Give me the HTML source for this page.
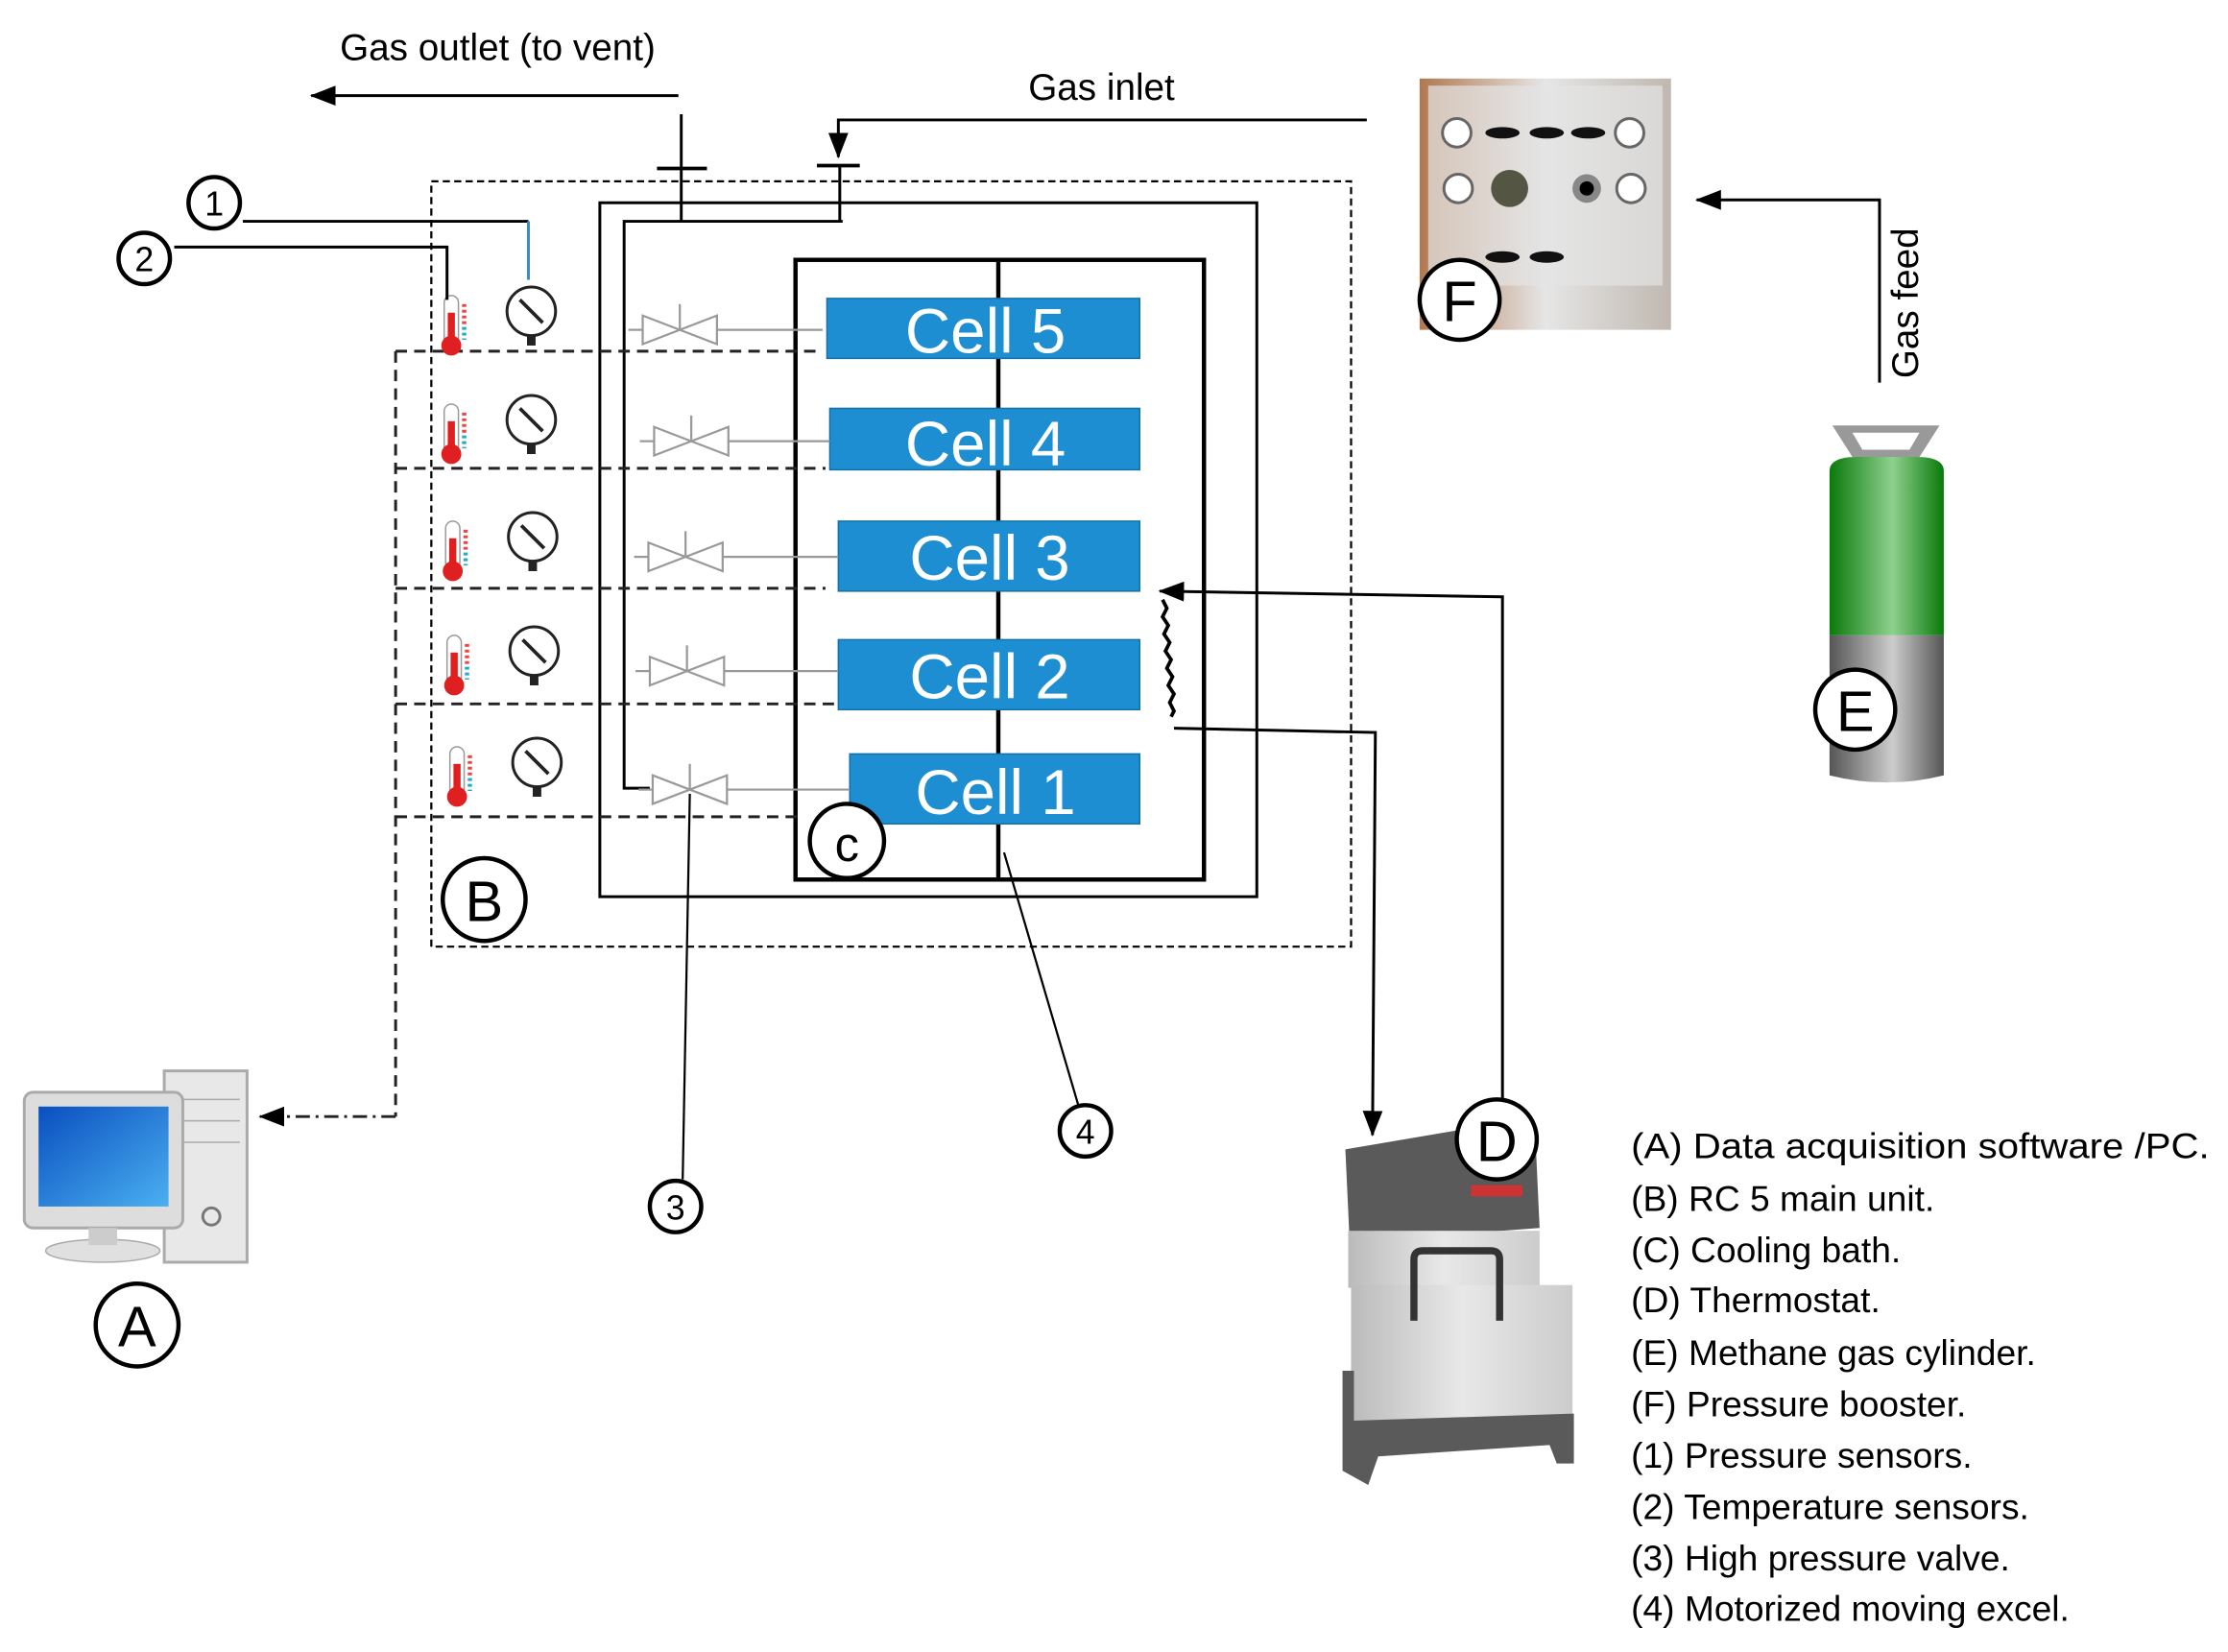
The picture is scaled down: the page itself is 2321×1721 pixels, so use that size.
<!DOCTYPE html>
<html><head><meta charset="utf-8"><style>
html,body{margin:0;padding:0;background:#fff}
svg{display:block}
text{font-family:"Liberation Sans",sans-serif}
</style></head><body>
<svg width="2321" height="1721" viewBox="0 0 1560 1157" preserveAspectRatio="none" xmlns="http://www.w3.org/2000/svg">
<defs>
<marker id="ahl" markerWidth="18" markerHeight="14" refX="17" refY="7" orient="auto" markerUnits="userSpaceOnUse"><path d="M0,0 L18,7 L0,14 z" fill="#000"/></marker>
<linearGradient id="gr" x1="0" x2="1"><stop offset="0" stop-color="#0a7a0a"/><stop offset="0.55" stop-color="#8fd08f"/><stop offset="1" stop-color="#0a7a0a"/></linearGradient>
<linearGradient id="gy" x1="0" x2="1"><stop offset="0" stop-color="#555"/><stop offset="0.55" stop-color="#ccc"/><stop offset="1" stop-color="#555"/></linearGradient>
<linearGradient id="pf" x1="0" x2="1"><stop offset="0" stop-color="#b07850"/><stop offset="0.5" stop-color="#e6e6e6"/><stop offset="1" stop-color="#c0b8b0"/></linearGradient>
<linearGradient id="mon" x1="0" y1="0" x2="1" y2="1"><stop offset="0" stop-color="#0a4fc0"/><stop offset="1" stop-color="#4ab0f0"/></linearGradient>
<linearGradient id="dm" x1="0" x2="1"><stop offset="0" stop-color="#bbb"/><stop offset="0.5" stop-color="#e8e8e8"/><stop offset="1" stop-color="#ccc"/></linearGradient>
</defs>

<text x="238" y="42" font-size="26">Gas outlet (to vent)</text>
<line x1="475" y1="67" x2="218" y2="67" stroke="#000" stroke-width="2" marker-end="url(#ahl)"/>
<line x1="477" y1="80" x2="477" y2="155" stroke="#000" stroke-width="2"/>
<line x1="460" y1="118" x2="495" y2="118" stroke="#000" stroke-width="2.5"/>
<text x="720" y="70" font-size="26">Gas inlet</text>
<polyline points="957,84 587,84 587,110" fill="none" stroke="#000" stroke-width="2" marker-end="url(#ahl)"/>
<line x1="572" y1="116" x2="602" y2="116" stroke="#000" stroke-width="2.5"/>
<line x1="588" y1="116" x2="588" y2="155" stroke="#000" stroke-width="2"/>
<polyline points="590,155 437,155 437,552 455,552" fill="none" stroke="#000" stroke-width="2"/>

<rect x="302" y="127" width="644" height="536" fill="none" stroke="#000" stroke-width="1.5" stroke-dasharray="5,3"/>
<rect x="420" y="142" width="460" height="486" fill="none" stroke="#000" stroke-width="2"/>
<rect x="557" y="182" width="286" height="434" fill="none" stroke="#000" stroke-width="3"/>
<line x1="699" y1="182" x2="699" y2="616" stroke="#000" stroke-width="3"/>

<g stroke="#222" stroke-width="2" stroke-dasharray="8,5" fill="none">
<line x1="277" y1="246" x2="575" y2="246"/>
<line x1="277" y1="328" x2="578" y2="328"/>
<line x1="277" y1="412" x2="578" y2="412"/>
<line x1="277" y1="493" x2="585" y2="493"/>
<line x1="277" y1="572" x2="560" y2="572"/>
<line x1="277" y1="246" x2="277" y2="782"/>
</g>
<line x1="277" y1="782" x2="182" y2="782" stroke="#222" stroke-width="2" stroke-dasharray="10,4,2,4" marker-end="url(#ahl)"/>

<g fill="#1e8ed2" stroke="#1470a8" stroke-width="1">
<rect x="579" y="209" width="219" height="42"/>
<rect x="581" y="286" width="217" height="43"/>
<rect x="587" y="365" width="211" height="49"/>
<rect x="587" y="448" width="211" height="49"/>
<rect x="595" y="528" width="203" height="49"/>
</g>
<g fill="#fff" font-size="44" text-anchor="middle">
<text x="690" y="247">Cell 5</text>
<text x="690" y="326">Cell 4</text>
<text x="693" y="406">Cell 3</text>
<text x="693" y="489">Cell 2</text>
<text x="697" y="570">Cell 1</text>
</g>

<g stroke="#999" stroke-width="1.5" fill="none">
<g transform="translate(476,231)"><path d="M-26,-10 L26,10 L26,-10 L-26,10 Z"/><line x1="0" y1="0" x2="0" y2="-18"/><line x1="-36" y1="0" x2="-26" y2="0"/><line x1="26" y1="0" x2="100" y2="0"/></g>
<g transform="translate(484,309)"><path d="M-26,-10 L26,10 L26,-10 L-26,10 Z"/><line x1="0" y1="0" x2="0" y2="-18"/><line x1="-36" y1="0" x2="-26" y2="0"/><line x1="26" y1="0" x2="97" y2="0"/></g>
<g transform="translate(480,390)"><path d="M-26,-10 L26,10 L26,-10 L-26,10 Z"/><line x1="0" y1="0" x2="0" y2="-18"/><line x1="-36" y1="0" x2="-26" y2="0"/><line x1="26" y1="0" x2="107" y2="0"/></g>
<g transform="translate(481,470)"><path d="M-26,-10 L26,10 L26,-10 L-26,10 Z"/><line x1="0" y1="0" x2="0" y2="-18"/><line x1="-36" y1="0" x2="-26" y2="0"/><line x1="26" y1="0" x2="106" y2="0"/></g>
<g transform="translate(483,553)"><path d="M-26,-10 L26,10 L26,-10 L-26,10 Z"/><line x1="0" y1="0" x2="0" y2="-18"/><line x1="-36" y1="0" x2="-26" y2="0"/><line x1="26" y1="0" x2="112" y2="0"/></g>
</g>

<g id="tg">
<g transform="translate(316,229)"><rect x="-5" y="-22" width="10" height="34" rx="5" fill="#fff" stroke="#999"/><rect x="-2.5" y="-10" width="5" height="20" fill="#e02020"/><circle cx="0" cy="13" r="7" fill="#e02020"/><line x1="9" y1="-16" x2="9" y2="0" stroke="#e44" stroke-width="3" stroke-dasharray="2,2"/><line x1="9" y1="0" x2="9" y2="9" stroke="#2ac" stroke-width="3" stroke-dasharray="2,2"/></g>
<g transform="translate(372,218)"><circle r="17" fill="#fff" stroke="#222" stroke-width="2"/><line x1="-8" y1="-8" x2="8" y2="8" stroke="#222" stroke-width="2.5"/><rect x="-3" y="17" width="6" height="7" fill="#222"/></g>
</g>
<use href="#tg" transform="translate(0,76)"/>
<use href="#tg" transform="translate(1,158)"/>
<use href="#tg" transform="translate(2,238)"/>
<use href="#tg" transform="translate(4,316)"/>

<line x1="170" y1="155" x2="370" y2="155" stroke="#000" stroke-width="2"/>
<line x1="370" y1="155" x2="370" y2="196" stroke="#3a8ad0" stroke-width="2"/>
<polyline points="122,173 313,173 313,210" fill="none" stroke="#000" stroke-width="2"/>

<line x1="478" y1="826" x2="483" y2="556" stroke="#000" stroke-width="1.5"/>
<line x1="755" y1="774" x2="703" y2="597" stroke="#000" stroke-width="1.5"/>

<polyline points="1052,770 1052,418 812,414" fill="none" stroke="#000" stroke-width="2" marker-end="url(#ahl)"/>
<polyline points="822,510 963,513 961,795" fill="none" stroke="#000" stroke-width="2" marker-end="url(#ahl)"/>
<path d="M814,420 l3,6 l-3,6 l4,6 l-3,6 l4,6 l-3,6 l4,6 l-3,6 l4,6 l-3,6 l4,6 l-3,6 l3,6 l-2,4" fill="none" stroke="#000" stroke-width="2.5"/>

<polyline points="1316,268 1316,140 1188,140" fill="none" stroke="#000" stroke-width="2" marker-end="url(#ahl)"/>
<text transform="translate(1343,265) rotate(-90)" font-size="26">Gas feed</text>

<rect x="994" y="55" width="176" height="176" fill="url(#pf)"/>
<rect x="1000" y="60" width="164" height="140" fill="#e4e4e4" opacity="0.7"/>
<g fill="#fff" stroke="#666" stroke-width="2"><circle cx="1020" cy="93" r="10"/><circle cx="1141" cy="93" r="10"/><circle cx="1021" cy="132" r="10"/><circle cx="1142" cy="132" r="10"/></g>
<circle cx="1057" cy="132" r="13" fill="#554"/><circle cx="1111" cy="132" r="10" fill="#888"/><circle cx="1111" cy="132" r="5" fill="#000"/>
<g fill="#111"><ellipse cx="1052" cy="93" rx="12" ry="4"/><ellipse cx="1083" cy="93" rx="12" ry="4"/><ellipse cx="1112" cy="93" rx="12" ry="4"/><ellipse cx="1052" cy="180" rx="12" ry="4"/><ellipse cx="1083" cy="180" rx="12" ry="4"/></g>

<path d="M1283,298 L1358,298 L1344,320 L1297,320 Z" fill="#999"/>
<path d="M1297,303 L1344,303 L1337,315 L1304,315 Z" fill="#fff"/>
<path d="M1281,330 Q1281,320 1300,320 L1342,320 Q1361,320 1361,330 L1361,445 L1281,445 Z" fill="url(#gr)"/>
<path d="M1281,445 L1361,445 L1361,543 Q1321,553 1281,543 Z" fill="url(#gy)"/>

<rect x="115" y="750" width="58" height="134" fill="#e8e8e8" stroke="#aaa" stroke-width="2"/>
<g stroke="#aaa" fill="none"><line x1="120" y1="770" x2="168" y2="770"/><line x1="120" y1="785" x2="168" y2="785"/><line x1="120" y1="800" x2="168" y2="800"/></g>
<circle cx="148" cy="852" r="6" fill="none" stroke="#777" stroke-width="2"/>
<rect x="17" y="765" width="111" height="95" rx="6" fill="#ddd" stroke="#aaa" stroke-width="2"/>
<rect x="27" y="775" width="91" height="70" fill="url(#mon)"/>
<ellipse cx="72" cy="876" rx="40" ry="8" fill="#e0e0e0" stroke="#aaa"/>
<rect x="62" y="860" width="20" height="12" fill="#ccc"/>

<!-- D thermostat -->
<path d="M942,805 L1030,790 L1075,795 L1078,860 L945,870 Z" fill="#5a5a5a"/>
<rect x="944" y="862" width="134" height="40" fill="url(#dm)"/>
<rect x="946" y="900" width="155" height="95" fill="url(#dm)"/>
<path d="M990,925 L990,882 Q990,876 996,876 L1044,876 Q1050,876 1050,882 L1050,925" fill="none" stroke="#333" stroke-width="5"/>
<path d="M940,960 L948,960 L948,995 L1102,990 L1102,1025 L1090,1025 L1085,1012 L965,1020 L958,1040 L940,1030 Z" fill="#5a5a5a"/>
<rect x="1030" y="830" width="36" height="8" fill="#c33"/>

<g fill="#fff" stroke="#000" stroke-width="3">
<circle cx="150" cy="142" r="18"/><circle cx="101" cy="181" r="18"/>
<circle cx="339" cy="630" r="29"/><circle cx="593" cy="589" r="26"/>
<circle cx="473" cy="845" r="18"/><circle cx="760" cy="792" r="18"/>
<circle cx="96" cy="928" r="29"/><circle cx="1048" cy="798" r="28"/>
<circle cx="1299" cy="497" r="28"/><circle cx="1022" cy="210" r="28"/>
</g>
<g font-size="24" text-anchor="middle">
<text x="150" y="151">1</text><text x="101" y="190">2</text>
<text x="473" y="854">3</text><text x="760" y="801">4</text>
</g>
<g font-size="40" text-anchor="middle">
<text x="339" y="645">B</text><text x="593" y="603" font-size="34">c</text>
<text x="96" y="943">A</text><text x="1048" y="813">D</text>
<text x="1299" y="512">E</text><text x="1022" y="225">F</text>
</g>

<g font-size="25">
<text x="1142" y="811" textLength="405" lengthAdjust="spacingAndGlyphs">(A) Data acquisition software /PC.</text>
<text x="1142" y="848">(B) RC 5 main unit.</text>
<text x="1142" y="884">(C) Cooling bath.</text>
<text x="1142" y="919">(D) Thermostat.</text>
<text x="1142" y="956">(E) Methane gas cylinder.</text>
<text x="1142" y="992">(F) Pressure booster.</text>
<text x="1142" y="1028">(1) Pressure sensors.</text>
<text x="1142" y="1064">(2) Temperature sensors.</text>
<text x="1142" y="1100">(3) High pressure valve.</text>
<text x="1142" y="1135">(4) Motorized moving excel.</text>
</g>
</svg>
</body></html>
